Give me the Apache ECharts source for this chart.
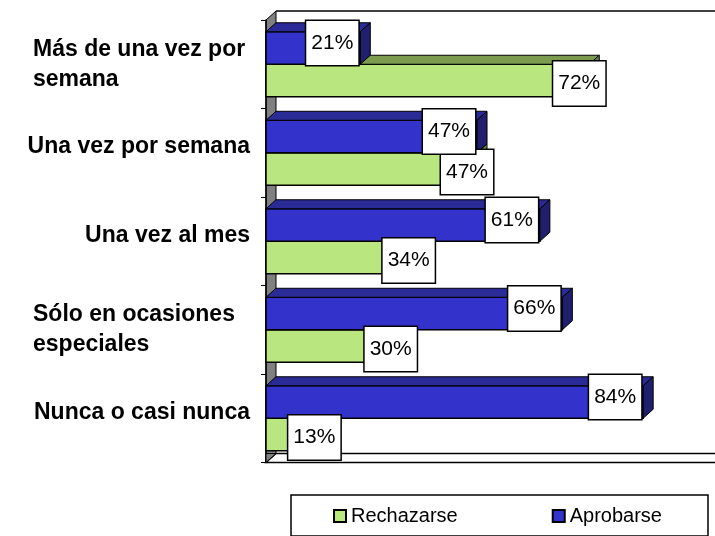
<!DOCTYPE html>
<html lang="es">
<head>
    <meta charset="UTF-8">
    <title>Frecuencia</title>
    <script src="https://cdn.jsdelivr.net/npm/echarts@6/dist/echarts.min.js"></script>
    <style>
        body{ margin: 0; background: #fff; }
        .box{ width: 715px; height: 536px; }
    </style>
</head>
<body>
<div id="show_echarts" class="box"></div>

<script>
    // datos
    var categorias = ['Más de una vez por\nsemana', 'Una vez por semana', 'Una vez al mes',
                      'Sólo en ocasiones\nespeciales', 'Nunca o casi nunca'];
    var aprobarse = [21, 47, 61, 66, 84];
    var rechazarse = [72, 47, 34, 30, 13];

    var FONT = "'Liberation Sans', Arial, sans-serif";
    var DX = 10, DY = -9;   // profundidad del efecto 3D

    var azul = { front: '#3333cc', top: '#2b2b97', side: '#1f1f6e' };
    var verde = { front: '#b9e67f', top: '#7c9b4e', side: '#6a8844' };

    function pares(valores){
        return valores.map(function(v, i){ return [i, v]; });
    }

    // barra 3D: arriba = aprobarse, abajo = rechazarse
    function barra(arriba, col){
        return function(params, api){
            var idx = api.value(0), val = api.value(1);
            var p0 = api.coord([0, idx]);
            var p1 = api.coord([val, idx]);
            var h = api.size([0, 1])[1] * 0.367;
            var x0 = p0[0], x1 = p1[0];
            var y0 = arriba ? p0[1] - h : p0[1];
            return {
                type: 'group',
                children: [
                    { type: 'rect', shape: { x: x0, y: y0, width: x1 - x0, height: h },
                      style: { fill: col.front, stroke: '#000', lineWidth: 1.5 } },
                    { type: 'polygon', shape: { points: [[x0, y0], [x0 + DX, y0 + DY], [x1 + DX, y0 + DY], [x1, y0]] },
                      style: { fill: col.top, stroke: '#000', lineWidth: 1 } },
                    { type: 'polygon', shape: { points: [[x1, y0], [x1 + DX, y0 + DY], [x1 + DX, y0 + DY + h], [x1, y0 + h]] },
                      style: { fill: col.side, stroke: '#000', lineWidth: 1 } }
                ]
            };
        };
    }

    function etiqueta(arriba){
        return function(params, api){
            var idx = api.value(0), val = api.value(1);
            var p0 = api.coord([0, idx]);
            var p1 = api.coord([val, idx]);
            var h = api.size([0, 1])[1] * 0.367;
            var yc = arriba ? p0[1] - h / 2 - 5 : p0[1] + h / 2 + 3;
            return {
                type: 'text',
                style: {
                    text: val + '%',
                    x: p1[0] - (arriba ? 28 : 10), y: yc,
                    align: 'center', verticalAlign: 'middle',
                    font: '21px ' + FONT, fill: '#000',
                    lineHeight: 21,
                    backgroundColor: '#fff', borderColor: '#000', borderWidth: 1.5,
                    padding: [12, 5, 11, 5]
                }
            };
        };
    }

    function show(){
        var myChart = echarts.init(document.querySelector(".box"), null, { renderer: 'canvas' });
        var option = {
            animation: false,
            grid: { left: 266, top: 20, width: 455, height: 442.5 },
            xAxis: { type: 'value', min: 0, max: 100, show: false },
            yAxis: {
                type: 'category',
                inverse: true,
                data: categorias,
                axisLine: { show: true, lineStyle: { color: '#000', width: 1.5 } },
                axisTick: { show: true, length: 5, lineStyle: { color: '#000', width: 1 } },
                axisLabel: {
                    margin: 16,
                    color: '#000',
                    fontFamily: FONT,
                    fontWeight: 'bold',
                    fontSize: 23,
                    formatter: function(v){
                        if (v.indexOf('\n') < 0) return '{s|' + v + '}';
                        return v.split('\n').map(function(l){ return '{m|' + l + '}'; }).join('\n');
                    },
                    rich: {
                        s: { fontFamily: FONT, fontWeight: 'bold', fontSize: 23, lineHeight: 26,
                             color: '#000', padding: [0, 0, 12, 0] },
                        m: { width: 217, align: 'left', fontFamily: FONT, fontWeight: 'bold',
                             fontSize: 23, lineHeight: 30, color: '#000' }
                    }
                }
            },
            legend: {
                data: ['Rechazarse', 'Aprobarse'],
                left: 291, top: 495,
                orient: 'horizontal',
                icon: 'rect',
                itemWidth: 12, itemHeight: 12,
                itemGap: 94,
                padding: [11, 46, 10, 42],
                borderColor: '#000', borderWidth: 1.5,
                textStyle: { fontFamily: FONT, fontSize: 20, color: '#000' }
            },
            graphic: [
                // pared izquierda y suelo
                { type: 'polygon', z: 0, shape: { points: [[266, 20], [276, 11], [276, 453.5], [266, 462.5]] },
                  style: { fill: '#808080', stroke: '#000', lineWidth: 1 } },
                { type: 'line', z: 0, shape: { x1: 276, y1: 11, x2: 715, y2: 11 },
                  style: { stroke: '#000', lineWidth: 1.5 } },
                { type: 'polygon', z: 0, shape: { points: [[266, 462.5], [276, 453.5], [720, 453.5], [720, 462.5]] },
                  style: { fill: '#fff', stroke: '#000', lineWidth: 1.5 } },
                { type: 'polygon', z: 1, shape: { points: [[266, 453.5], [276, 453.5], [266, 462.5]] },
                  style: { fill: '#808080', stroke: '#000', lineWidth: 1 } }
            ],
            series: [
                { name: 'Rechazarse', type: 'custom', z: 2, data: pares(rechazarse),
                  encode: { x: 1, y: 0 }, renderItem: barra(false, verde),
                  itemStyle: { color: verde.front, borderColor: '#000', borderWidth: 1.5 } },
                { name: 'Aprobarse', type: 'custom', z: 3, data: pares(aprobarse),
                  encode: { x: 1, y: 0 }, renderItem: barra(true, azul),
                  itemStyle: { color: azul.front, borderColor: '#000', borderWidth: 1.5 } },
                { name: 'Rechazarse', type: 'custom', z: 5, data: pares(rechazarse),
                  encode: { x: 1, y: 0 }, renderItem: etiqueta(false),
                  itemStyle: { color: verde.front, borderColor: '#000', borderWidth: 1.5 } },
                { name: 'Aprobarse', type: 'custom', z: 5, data: pares(aprobarse),
                  encode: { x: 1, y: 0 }, renderItem: etiqueta(true),
                  itemStyle: { color: azul.front, borderColor: '#000', borderWidth: 1.5 } }
            ]
        };
        myChart.setOption(option);
    }
    show()
</script>
</body>
</html>
